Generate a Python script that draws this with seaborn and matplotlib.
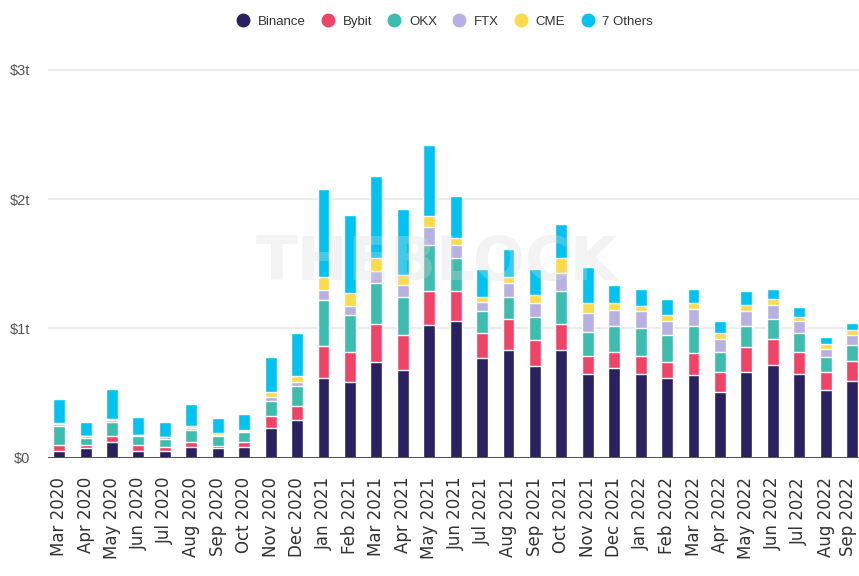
import numpy as np
import pandas as pd
import seaborn as sns
from matplotlib import pyplot as plt
from matplotlib.lines import Line2D
from matplotlib.transforms import ScaledTranslation

# # Data (monthly volume, $bn)

months = ["Mar 2020", "Apr 2020", "May 2020", "Jun 2020", "Jul 2020", "Aug 2020",
          "Sep 2020", "Oct 2020", "Nov 2020", "Dec 2020", "Jan 2021", "Feb 2021",
          "Mar 2021", "Apr 2021", "May 2021", "Jun 2021", "Jul 2021", "Aug 2021",
          "Sep 2021", "Oct 2021", "Nov 2021", "Dec 2021", "Jan 2022", "Feb 2022",
          "Mar 2022", "Apr 2022", "May 2022", "Jun 2022", "Jul 2022", "Aug 2022",
          "Sep 2022"]

binance = [54, 70, 120, 54, 54, 85, 72, 85, 230, 290, 615, 585, 740, 675, 1025, 1055,
           770, 835, 710, 835, 645, 695, 645, 615, 635, 510, 665, 715, 650, 525, 590]
bybit = [39, 23, 50, 39, 26, 35, 16, 35, 90, 110, 250, 235, 295, 270, 265, 235,
         190, 235, 200, 200, 140, 120, 140, 125, 170, 155, 190, 200, 170, 140, 155]
okx = [147, 57, 105, 77, 60, 90, 77, 75, 120, 155, 355, 280, 315, 295, 355, 250,
       170, 170, 175, 255, 190, 205, 220, 205, 215, 155, 165, 155, 140, 110, 125]
ftx = [20, 20, 15, 5, 15, 20, 10, 10, 30, 30, 80, 75, 95, 95, 140, 105,
       75, 110, 110, 135, 140, 125, 125, 110, 130, 95, 115, 110, 95, 65, 75]
cme = [5, 0, 5, 0, 0, 15, 15, 10, 40, 45, 100, 100, 95, 75, 80, 50,
       35, 45, 60, 115, 80, 50, 45, 45, 45, 45, 45, 45, 35, 40, 45]
others = [185, 105, 235, 135, 120, 170, 115, 125, 270, 335, 680, 600, 640, 515, 555, 330,
          215, 220, 200, 265, 280, 140, 130, 125, 110, 95, 110, 80, 75, 50, 50]

series = ["Binance", "Bybit", "OKX", "FTX", "CME", "7 Others"]
colors = ["#2a2160", "#ef4468", "#3dbcb0", "#b6b1e1", "#fcdb4a", "#00c3f1"]

df = pd.DataFrame({"Binance": binance, "Bybit": bybit, "OKX": okx,
                   "FTX": ftx, "CME": cme, "7 Others": others}, index=months)
# cumulative in trillions, stacked by overlaying from tallest to shortest
cum = df.cumsum(axis=1) / 1000

sns.set_style("white")
plt.rcParams["font.family"] = ["DejaVu Sans"]

fig = plt.figure(figsize=(8.59, 5.76), dpi=100)
ax = fig.add_axes([0.0559, 0.2057, 0.9441, 0.6866])

for name, col in reversed(list(zip(series, colors))):
    sns.barplot(x=months, y=cum[name].values, color=col, width=0.45,
                saturation=1, ax=ax, zorder=3)

ax.set_xlim(-0.42, 30.26)
ax.set_ylim(0, 3.06)
ax.set_yticks([0, 1, 2, 3])
ax.set_yticklabels(["$0", "$1t", "$2t", "$3t"])
ax.yaxis.grid(True, color="#ebebeb", linewidth=1.5, zorder=0)
ax.axhline(0, color="#555555", linewidth=2.2, zorder=4)
sns.despine(ax=ax, left=True, bottom=True)
ax.tick_params(axis="y", length=0, pad=13, labelsize=10.5, labelcolor="#555555")
for lab in ax.get_yticklabels():
    lab.set_family("Liberation Sans")
ax.tick_params(axis="x", length=0, pad=14, labelsize=12, labelcolor="#333333",
               labelrotation=90)
# last label sits on the right edge, nudge it in a little
last = ax.get_xticklabels()[-1]
last.set_transform(last.get_transform() + ScaledTranslation(-3 / 72, 0, fig.dpi_scale_trans))
ax.set_xlabel("")
ax.set_ylabel("")

# faint watermark
ax.text(0.48, 0.49, "THEBLOCK", transform=ax.transAxes, ha="center", va="center",
        fontsize=44, fontweight="bold", color="#d8d8d8", alpha=0.3, zorder=5)

handles = [Line2D([0], [0], marker="o", linestyle="", markersize=9,
                  markerfacecolor=c, markeredgecolor=c) for c in colors]
fig.legend(handles, series, loc="center", bbox_to_anchor=(0.514, 0.962), ncol=6,
           frameon=False, prop={"family": "Liberation Sans", "size": 9.5},
           handletextpad=0.1, columnspacing=0.7, labelcolor="#333333")

fig.savefig("out.png", dpi=100)
